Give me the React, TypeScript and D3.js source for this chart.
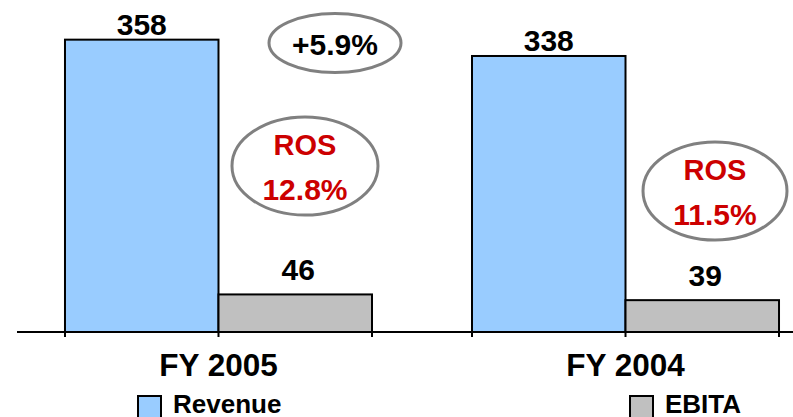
import React from "react";
import * as d3 from "d3";

const categories = ["FY 2005", "FY 2004"];
const seriesNames = ["Revenue", "EBITA"];
const revenue = [358, 338];
const ebita = [46, 39];

const W = 793;
const H = 417;
const FONT = "'Liberation Sans', Arial, Helvetica, sans-serif";
const COLORS = ["#99CCFF", "#C0C0C0"];
const RED = "#CC0000";
const GREY = "#808080";

// annotation layout (ellipse centers relative to category band start)
const rosLayout = [
  { dx: 240, cy: 166, rx: 73, ry: 49 },
  { dx: 243, cy: 191, rx: 72, ry: 49 },
];

export default function App() {
  const baseY = 332;
  const y = d3.scaleLinear().domain([0, 400]).range([baseY, baseY - 400 * 0.8166]);
  const x = d3
    .scaleBand<string>()
    .domain(categories)
    .range([17, 827])
    .paddingInner(0.2457)
    .paddingOuter(0.1179);
  const bw = x.bandwidth();
  const xs = d3.scaleBand<string>().domain(seriesNames).range([0, bw]).padding(0);
  const values = [revenue, ebita];
  const labelOffset = [5, 14];

  const growth = ((revenue[0] / revenue[1] - 1) * 100).toFixed(1);
  const ros = revenue.map((r, i) => ((ebita[i] / r) * 100).toFixed(1));

  const ticks: number[] = [];
  categories.forEach((c) => {
    const x0 = x(c)!;
    ticks.push(x0, x0 + xs("EBITA")!, x0 + bw);
  });

  return (
    <svg
      width={W}
      height={H}
      style={{ position: "fixed", left: 0, top: 0, display: "block", background: "#fff" }}
      fontFamily={FONT}
      fontWeight="bold"
    >
      {/* bars */}
      {categories.map((c, ci) =>
        seriesNames.map((s, si) => {
          const v = values[si][ci];
          const bx = x(c)! + xs(s)!;
          return (
            <g key={c + s}>
              <rect
                x={bx}
                y={y(v)}
                width={xs.bandwidth()}
                height={y(0) - y(v)}
                fill={COLORS[si]}
                stroke="#000"
                strokeWidth={2}
              />
              <text
                x={bx + xs.bandwidth() / 2 + (si === 1 ? 3 : 0)}
                y={y(v) - labelOffset[si]}
                textAnchor="middle"
                fontSize={30}
                fill="#000"
              >
                {v}
              </text>
            </g>
          );
        })
      )}
      {/* axis */}
      <line x1={17} x2={W} y1={baseY} y2={baseY} stroke="#000" strokeWidth={2} />
      {ticks.map((t, i) => (
        <line key={i} x1={t} x2={t} y1={baseY} y2={baseY + 5} stroke="#000" strokeWidth={2} />
      ))}
      {categories.map((c) => (
        <text
          key={c}
          x={x(c)! + bw / 2}
          y={376}
          textAnchor="middle"
          fontSize={31.5}
          fill="#000"
        >
          {c}
        </text>
      ))}
      {/* growth ellipse */}
      <ellipse cx={335} cy={43} rx={66} ry={29.5} fill="none" stroke={GREY} strokeWidth={3} />
      <text x={335} y={55} textAnchor="middle" fontSize={30} fill="#000">
        {`+${growth}%`}
      </text>
      {/* ROS ellipses */}
      {categories.map((c, i) => {
        const L = rosLayout[i];
        const cx = x(c)! + L.dx;
        return (
          <g key={"ros" + c}>
            <ellipse cx={cx} cy={L.cy} rx={L.rx} ry={L.ry} fill="none" stroke={GREY} strokeWidth={3} />
            <text x={cx} y={L.cy - 11} textAnchor="middle" fontSize={29} fill={RED}>
              ROS
            </text>
            <text x={cx} y={L.cy + 34} textAnchor="middle" fontSize={30} fill={RED}>
              {`${ros[i]}%`}
            </text>
          </g>
        );
      })}
      {/* legend */}
      {seriesNames.map((s, i) => {
        const lx = [138, 630][i];
        return (
          <g key={"lg" + s}>
            <rect x={lx} y={396} width={23} height={23} fill={COLORS[i]} stroke="#000" strokeWidth={2} />
            <text x={lx + 35} y={413} fontSize={26} fill="#000">
              {s}
            </text>
          </g>
        );
      })}
    </svg>
  );
}
